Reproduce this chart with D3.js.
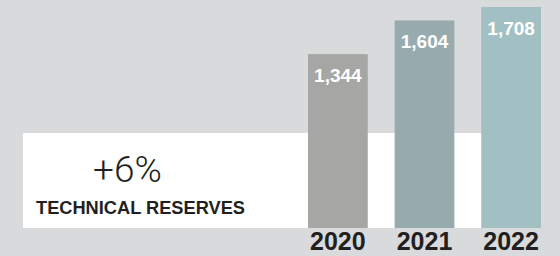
<!DOCTYPE html>
<html>
<head>
<meta charset="utf-8">
<script src="https://cdn.jsdelivr.net/npm/d3@7"></script>
<style>
  html, body { margin: 0; padding: 0; background: #d9dadb; }
  svg { display: block; }
  text { font-family: "Liberation Sans", Arial, Helvetica, sans-serif; }
</style>
</head>
<body>
<svg></svg>
<script>
var years = ["2020", "2021", "2022"];
var reserves = [1344, 1604, 1708];
var barColors = ["#a6a6a4", "#97abae", "#a2c0c3"];
var growth = "+6%";
var caption = "TECHNICAL RESERVES";

var svgWidth = 560, svgHeight = 256;

var svg = d3.select('svg')
  .attr('width', svgWidth)
  .attr('height', svgHeight);

svg.append('rect')
  .attr('width', svgWidth)
  .attr('height', svgHeight)
  .attr('fill', '#d9dadb');

var baseY = 228;

var xScale = d3.scaleBand()
  .domain(years)
  .range([308, 541])
  .paddingInner(0.31)
  .paddingOuter(0);

var yScale = d3.scaleLinear()
  .domain([0, d3.max(reserves)])
  .range([baseY, 7]);

// white band behind the bars
svg.append('rect')
  .attr('x', 23)
  .attr('y', 133)
  .attr('width', xScale.range()[1] - 23)
  .attr('height', baseY - 133)
  .attr('fill', '#ffffff');

var bars = svg.append('g').attr('class', 'bars');

bars.selectAll('rect')
  .data(reserves)
  .enter()
  .append('rect')
  .attr('x', function(d, i) { return xScale(years[i]); })
  .attr('y', function(d) { return yScale(d); })
  .attr('width', xScale.bandwidth())
  .attr('height', function(d) { return baseY - yScale(d); })
  .attr('fill', function(d, i) { return barColors[i]; });

bars.selectAll('text.val')
  .data(reserves)
  .enter()
  .append('text')
  .attr('class', 'val')
  .attr('x', function(d, i) { return xScale(years[i]) + xScale.bandwidth() / 2; })
  .attr('y', function(d) { return yScale(d) + 28; })
  .attr('text-anchor', 'middle')
  .attr('fill', '#ffffff')
  .attr('font-weight', 'bold')
  .attr('font-size', 19)
  .text(function(d) { return d3.format(',')(d); });

svg.append('g').selectAll('text')
  .data(years)
  .enter()
  .append('text')
  .attr('x', function(d) { return xScale(d) + xScale.bandwidth() / 2; })
  .attr('y', 250)
  .attr('text-anchor', 'middle')
  .attr('fill', '#231f20')
  .attr('font-weight', 'bold')
  .attr('font-size', 25)
  .text(function(d) { return d; });

svg.append('text')
  .attr('x', 93)
  .attr('y', 182)
  .attr('fill', '#231f20')
  .attr('font-size', 37)
  .style('font-family', 'Roboto, "Liberation Sans", sans-serif')
  .attr('font-weight', 300)
  .text(growth);

svg.append('text')
  .attr('x', 36)
  .attr('y', 214)
  .attr('fill', '#231f20')
  .attr('font-weight', 'bold')
  .attr('font-size', 18)
  .attr('textLength', 209)
  .attr('lengthAdjust', 'spacingAndGlyphs')
  .text(caption);
</script>
</body>
</html>
